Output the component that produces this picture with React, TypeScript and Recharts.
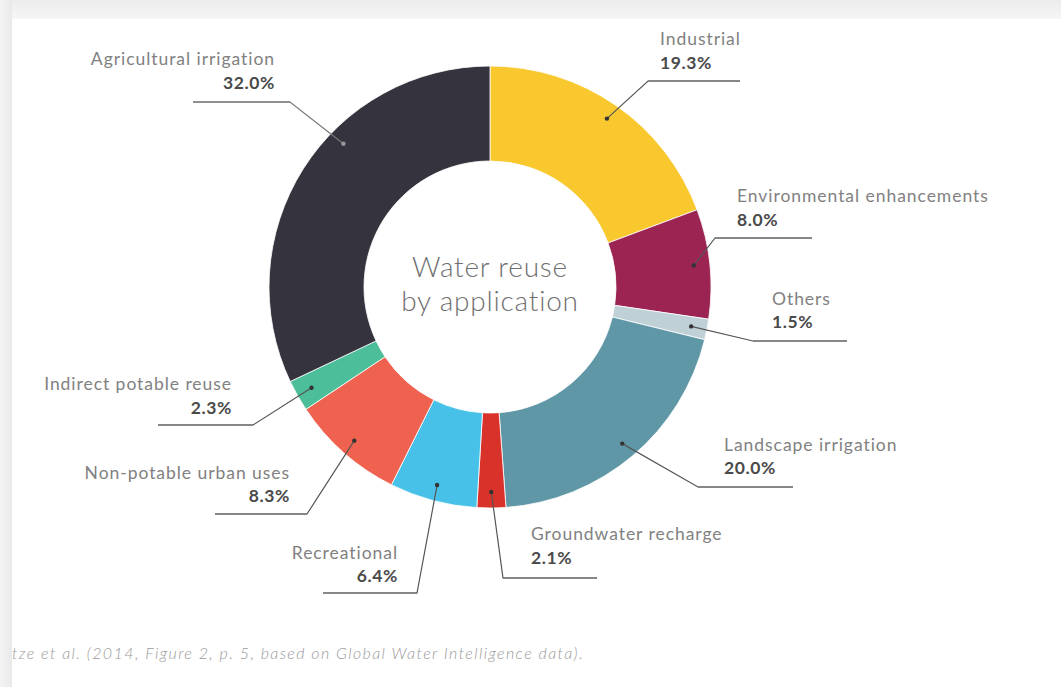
import { Pie, PieChart, Cell } from "recharts";

const categories = [
  "Industrial",
  "Environmental enhancements",
  "Others",
  "Landscape irrigation",
  "Groundwater recharge",
  "Recreational",
  "Non-potable urban uses",
  "Indirect potable reuse",
  "Agricultural irrigation",
];

const shares = [19.3, 8.0, 1.5, 20.0, 2.1, 6.4, 8.3, 2.3, 32.0];

const colors = [
  "#F8C82E",
  "#9B2452",
  "#BFD0D7",
  "#5F97A6",
  "#D8322B",
  "#48C1E8",
  "#EE624F",
  "#4CBF9A",
  "#35343E",
];

// leader-line layout per slice (pixel positions in the chart)
type LabelLayout = {
  elbow: [number, number];
  endX: number;
  textX: number;
  anchor: "start" | "end";
  nameY: number;
  pctY: number;
  angleShift?: number;
};

const layouts: LabelLayout[] = [
  { elbow: [648, 81], endX: 740, textX: 660, anchor: "start", nameY: 38, pctY: 62 },
  { elbow: [715, 238], endX: 812, textX: 737, anchor: "start", nameY: 195, pctY: 219 },
  { elbow: [753, 341], endX: 847, textX: 772, anchor: "start", nameY: 298, pctY: 321 },
  { elbow: [698, 487], endX: 793, textX: 724, anchor: "start", nameY: 444, pctY: 467 },
  { elbow: [503, 578], endX: 597, textX: 531, anchor: "start", nameY: 533, pctY: 557 },
  { elbow: [417, 593], endX: 323, textX: 398, anchor: "end", nameY: 552, pctY: 575 },
  { elbow: [307, 514], endX: 215, textX: 290, anchor: "end", nameY: 472, pctY: 495 },
  { elbow: [253, 425], endX: 158, textX: 232, anchor: "end", nameY: 383, pctY: 407 },
  { elbow: [290, 102], endX: 193, textX: 275, anchor: "end", nameY: 58, pctY: 82, angleShift: -12 },
];

const pieData = categories.map((name, i) => ({ name, value: shares[i] }));

const RADIAN = Math.PI / 180;
const FONT = "Lato, 'Open Sans', sans-serif";

function LeaderLabel(props: any) {
  const { cx, cy, midAngle, index } = props;
  const layout = layouts[index];
  const angle = midAngle + (layout.angleShift ?? 0);
  const r = 205;
  const dx = cx + r * Math.cos(-angle * RADIAN);
  const dy = cy + r * Math.sin(-angle * RADIAN);
  const [ex, ey] = layout.elbow;
  const dark = index === 8;
  return (
    <g>
      <polyline
        points={`${dx},${dy} ${ex},${ey} ${layout.endX},${ey}`}
        fill="none"
        stroke={dark ? "#777" : "#555"}
        strokeWidth={1.2}
      />
      <line x1={ex} y1={ey} x2={layout.endX} y2={ey} stroke="#666" strokeWidth={1.2} />
      <circle cx={dx} cy={dy} r={2.2} fill={dark ? "#999" : "#333"} />
      <text
        x={layout.textX}
        y={layout.nameY}
        textAnchor={layout.anchor}
        dominantBaseline="central"
        fontFamily={FONT}
        fontSize={17.5}
        letterSpacing={0.95}
        fill="#818181"
      >
        {categories[index]}
      </text>
      <text
        x={layout.textX}
        y={layout.pctY}
        textAnchor={layout.anchor}
        dominantBaseline="central"
        fontFamily={FONT}
        fontSize={17.5}
        fontWeight={700}
        letterSpacing={0.6}
        fill="#4a4a4a"
      >
        {shares[index].toFixed(1)}%
      </text>
    </g>
  );
}

export default function App() {
  return (
    <div style={{ position: "absolute", left: 0, top: 0, width: 1061, height: 687, background: "#fff", overflow: "hidden" }}>
      <div style={{ position: "absolute", left: 0, top: 0, width: 1061, height: 19, background: "linear-gradient(#ececec, #f6f6f6)" }} />
      <div style={{ position: "absolute", left: 0, top: 0, width: 12, height: 687, background: "linear-gradient(90deg, #f4f4f4, #e9e9e9)" }} />
      <div style={{ position: "absolute", left: 0, top: 0 }}>
        <PieChart width={1061} height={687} margin={{ top: 0, right: 0, bottom: 0, left: 0 }}>
          <Pie
            data={pieData}
            dataKey="value"
            nameKey="name"
            cx={490}
            cy={287}
            innerRadius={126}
            outerRadius={221}
            startAngle={90}
            endAngle={-270}
            stroke="#fff"
            strokeWidth={0.8}
            label={LeaderLabel}
            labelLine={false}
            isAnimationActive={false}
          >
            {pieData.map((d, i) => (
              <Cell key={d.name} fill={colors[i]} />
            ))}
          </Pie>
          <text x={490} y={266} textAnchor="middle" dominantBaseline="central" fontFamily={FONT} fontWeight={300} fontSize={28} letterSpacing={0.8} fill="#6f6f6f">
            Water reuse
          </text>
          <text x={490} y={300} textAnchor="middle" dominantBaseline="central" fontFamily={FONT} fontWeight={300} fontSize={28} letterSpacing={0.8} fill="#6f6f6f">
            by application
          </text>
          <text x={12} y={652} dominantBaseline="central" fontFamily={FONT} fontStyle="italic" fontWeight={300} fontSize={16} letterSpacing={1.4} fill="#9a9a9a">
            tze et al. (2014, Figure 2, p. 5, based on Global Water Intelligence data).
          </text>
        </PieChart>
      </div>
    </div>
  );
}
